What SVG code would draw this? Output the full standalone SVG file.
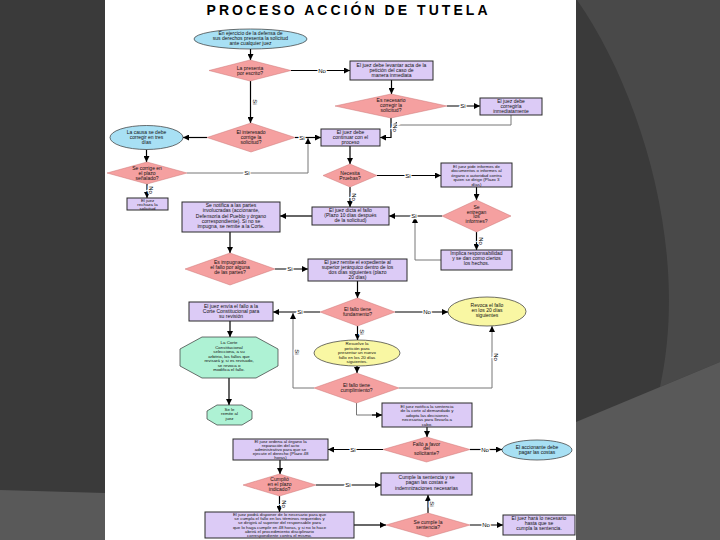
<svg xmlns="http://www.w3.org/2000/svg" width="720" height="540" viewBox="0 0 720 540">
<defs>
<marker id="ah" viewBox="0 0 6 6" refX="6" refY="3" markerWidth="6" markerHeight="6" markerUnits="userSpaceOnUse" orient="auto"><path d="M0,0 L6,3 L0,6 z" fill="#000"/></marker>
<style>
text{font-family:"Liberation Sans",Arial,sans-serif;fill:#111;text-anchor:middle}
.t{font-size:5px}
.s{font-size:4.4px}
.box{fill:#dccbf6;stroke:#2a2a2a;stroke-width:1}
.dia{fill:#f5a0a0;stroke:#c77;stroke-width:0.5}
.ell{fill:#a8e0f4;stroke:#333;stroke-width:0.7}
.yel{fill:#f9f7a3;stroke:#333;stroke-width:0.7}
.oct{fill:#aef2d4;stroke:#333;stroke-width:0.7}
.c{fill:none;stroke:#000;stroke-width:1.2;marker-end:url(#ah)}
.g{fill:none;stroke:#777;stroke-width:1;marker-end:url(#ah)}
.gn{fill:none;stroke:#777;stroke-width:1}
.lb{font-size:6px;fill:#000;paint-order:stroke;stroke:#fff;stroke-width:2.5}
</style>
</defs>
<rect x="0" y="0" width="720" height="540" fill="#3a3a3a"/>
<path d="M0,490 L105,493 L105,540 L0,540 Z" fill="#595959"/>
<path d="M577,0 C640,90 690,250 660,387 L720,362 L720,0 Z" fill="#494949"/>
<path d="M576,422 L720,362 L720,540 L576,540 Z" fill="#595959"/>
<rect x="105" y="0" width="471" height="540" fill="#fff"/>
<text x="347" y="14.5" style="font-size:14px;font-weight:900;fill:#000" textLength="281" lengthAdjust="spacing">PROCESO ACCIÓN DE TUTELA</text>

<g id="connectors">
<path class="c" d="M250.5,49 V60"/>
<path class="c" d="M291,70.5 H350"/>
<path class="c" d="M391.5,80 V94"/>
<path class="c" d="M250.5,81 V123"/>
<path class="c" d="M447,106 H480"/>
<path class="g" d="M511,115 V125 H391"/>
<path class="c" d="M391,118 V137.5 H380"/>
<path class="c" d="M295,137.5 H321"/>
<path class="c" d="M207,137.5 H183"/>
<path class="c" d="M146.5,149.5 V162"/>
<path class="g" d="M187,173 H308 V138"/>
<path class="c" d="M147,184 V198"/>
<path class="c" d="M350,146 V164"/>
<path class="c" d="M377,175.5 H441"/>
<path class="c" d="M476.5,187 V200"/>
<path class="c" d="M476.5,232 V250"/>
<path class="c" d="M442,216 H389"/>
<path class="g" d="M441,260 H415 V217"/>
<path class="c" d="M350,187 V207"/>
<path class="c" d="M312,216 H280"/>
<path class="c" d="M230,232 V253"/>
<path class="c" d="M275,269 H308"/>
<path class="c" d="M357.5,281 V298"/>
<path class="c" d="M395,312 H448"/>
<path class="c" d="M320,312 H273"/>
<path class="g" d="M314,388 H293 V313"/>
<path class="g" d="M399,388 H492 V326"/>
<path class="c" d="M357.5,326 V340"/>
<path class="c" d="M357,366 V373"/>
<path class="c" d="M230,321 V337"/>
<path class="c" d="M229,378 V405"/>
<path class="gn" d="M356.5,403 V415 H376"/>
<path class="c" d="M372,415 H382"/>
<path class="c" d="M427,427 V437"/>
<path class="c" d="M470,449.5 H502"/>
<path class="c" d="M383,449.5 H328"/>
<path class="c" d="M280,460 V474"/>
<path class="c" d="M316,485 H381"/>
<path class="c" d="M279.5,496 V512"/>
<path class="c" d="M354,525 H386"/>
<path class="c" d="M428,513 V495"/>
<path class="c" d="M470,525 H503"/>
<text class="lb" x="322" y="72.5">No</text>
<text class="lb" transform="translate(252.5,102) rotate(90)">Si</text>
<text class="lb" x="463" y="108">Si</text>
<text class="lb" transform="translate(393,128) rotate(90)">No</text>
<text class="lb" x="302" y="139.5">Si</text>
<text class="lb" x="247" y="175">Si</text>
<text class="lb" transform="translate(149,190) rotate(90)">No</text>
<text class="lb" x="408" y="177.5">Si</text>
<text class="lb" transform="translate(478.5,241) rotate(90)">No</text>
<text class="lb" x="414" y="218">Si</text>
<text class="lb" transform="translate(352,197) rotate(90)">No</text>
<text class="lb" x="290" y="271">Si</text>
<text class="lb" x="427" y="314">No</text>
<text class="lb" x="300" y="314">Si</text>
<text class="lb" transform="translate(295,352) rotate(90)">Si</text>
<text class="lb" transform="translate(494,357) rotate(90)">No</text>
<text class="lb" transform="translate(359.5,332) rotate(90)">Si</text>
<text class="lb" x="485" y="451.5">No</text>
<text class="lb" x="353" y="451.5">Si</text>
<text class="lb" x="348" y="487">Si</text>
<text class="lb" transform="translate(281.5,504) rotate(90)">No</text>
<text class="lb" transform="translate(430,504) rotate(90)">Si</text>
<text class="lb" x="486" y="527">No</text>
</g>

<g id="n_inicio"><ellipse class="ell" cx="250.5" cy="39" rx="56.5" ry="10"/><text class="t" x="250.5" y="35">En ejercicio de la defensa de<tspan x="250.5" dy="5">sus derechos presenta la solicitud</tspan><tspan x="250.5" dy="5">ante cualquier juez</tspan></text></g>
<g id="n_escrito"><polygon class="dia" points="250,60 291,70.5 250,81 209,70.5"/><text class="t" x="250" y="69.5">La presenta<tspan x="250" dy="5">por escrito?</tspan></text></g>
<g id="n_acta"><rect class="box" x="350" y="61" width="83" height="19"/><text class="t" x="391.5" y="66.5">El juez debe levantar acta de la<tspan x="391.5" dy="5">petición del caso de</tspan><tspan x="391.5" dy="5">manera inmediata</tspan></text></g>
<g id="n_corregir"><polygon class="dia" points="391,94 447,106 391,118 335,106"/><text class="t" x="391" y="102">Es necesario<tspan x="391" dy="5">corregir la</tspan><tspan x="391" dy="5">solicitud?</tspan></text></g>
<g id="n_corregirla"><rect class="box" x="480" y="98" width="62" height="17"/><text class="t" x="511" y="102.5">El juez debe<tspan x="511" dy="5">corregirla</tspan><tspan x="511" dy="5">inmediatamente</tspan></text></g>
<g id="n_interesado"><polygon class="dia" points="251,123 295,137.5 251,152 207,137.5"/><text class="t" x="251" y="134">El interesado<tspan x="251" dy="5">corrige la</tspan><tspan x="251" dy="5">solicitud?</tspan></text></g>
<g id="n_tresdias"><ellipse class="ell" cx="146.5" cy="137.5" rx="36.5" ry="12"/><text class="t" x="146.5" y="133.5">La causa se debe<tspan x="146.5" dy="5">corregir en tres</tspan><tspan x="146.5" dy="5">días</tspan></text></g>
<g id="n_plazo"><polygon class="dia" points="147,162 187,173 147,184 107,173"/><text class="t" x="147" y="169.5">Se corrige en<tspan x="147" dy="5">el plazo</tspan><tspan x="147" dy="5">señalado?</tspan></text></g>
<g id="n_rechaza"><rect class="box" x="127" y="198" width="41" height="12"/><text class="s" x="147.5" y="201.8">El juez<tspan x="147.5" dy="3.9">rechaza la</tspan><tspan x="147.5" dy="3.9">solicitud</tspan></text></g>
<g id="n_continuar"><rect class="box" x="321" y="129" width="59" height="17"/><text class="t" x="350.5" y="133.5">El juez debe<tspan x="350.5" dy="5">continuar con el</tspan><tspan x="350.5" dy="5">proceso</tspan></text></g>
<g id="n_pruebas"><polygon class="dia" points="350,164 377,175.5 350,187 323,175.5"/><text class="t" x="350" y="174.5">Necesita<tspan x="350" dy="5">Pruebas?</tspan></text></g>
<g id="n_informe"><rect class="box" x="441" y="163" width="71" height="24"/><text class="s" x="476.5" y="167.5">El juez pide informes de<tspan x="476.5" dy="4.5">documentos o informes al</tspan><tspan x="476.5" dy="4.5">órgano o autoridad contra</tspan><tspan x="476.5" dy="4.5">quien se dirige (Plazo 3</tspan><tspan x="476.5" dy="4.5">días)</tspan></text></g>
<g id="n_entregan"><polygon class="dia" points="476.5,200 511,216 476.5,232 442,216"/><text class="t" x="476.5" y="209">Se<tspan x="476.5" dy="4.6">entregan</tspan><tspan x="476.5" dy="4.6">los</tspan><tspan x="476.5" dy="4.6">informes?</tspan></text></g>
<g id="n_implica"><rect class="box" x="441" y="250" width="71" height="20"/><text class="t" x="476.5" y="255">Implica responsabilidad<tspan x="476.5" dy="5">y se dan como ciertos</tspan><tspan x="476.5" dy="5">los hechos.</tspan></text></g>
<g id="n_fallo"><rect class="box" x="312" y="207" width="77" height="18"/><text class="t" x="350.5" y="211.5">El juez dicta el fallo<tspan x="350.5" dy="5">(Plazo 10 días después</tspan><tspan x="350.5" dy="5">de la solicitud)</tspan></text></g>
<g id="n_notifica"><rect class="box" x="182" y="202" width="98" height="30"/><text class="t" x="231" y="207">Se notifica a las partes<tspan x="231" dy="5.3">involucradas (accionante,</tspan><tspan x="231" dy="5.3">Defensoría del Pueblo y órgano</tspan><tspan x="231" dy="5.3">correspondiente). Si no se</tspan><tspan x="231" dy="5.3">impugna, se remite a la Corte.</tspan></text></g>
<g id="n_impugnado"><polygon class="dia" points="230,253 275,269 230,285 185,269"/><text class="t" x="230" y="264">Es impugnado<tspan x="230" dy="5">el fallo por alguna</tspan><tspan x="230" dy="5">de las partes?</tspan></text></g>
<g id="n_remite"><rect class="box" x="308" y="259" width="99" height="22"/><text class="t" x="357.5" y="264">El juez remite el expediente al<tspan x="357.5" dy="4.9">superior jerárquico dentro de los</tspan><tspan x="357.5" dy="4.9">dos días siguientes (plazo</tspan><tspan x="357.5" dy="4.9">20 días)</tspan></text></g>
<g id="n_envia"><rect class="box" x="189" y="302" width="84" height="19"/><text class="t" x="231" y="307.5">El juez envía el fallo a la<tspan x="231" dy="5">Corte Constitucional para</tspan><tspan x="231" dy="5">su revisión</tspan></text></g>
<g id="n_fundamento"><polygon class="dia" points="357.5,298 395,312 357.5,326 320,312"/><text class="t" x="357.5" y="310.5">El fallo tiene<tspan x="357.5" dy="5">fundamento?</tspan></text></g>
<g id="n_revoca"><ellipse class="yel" cx="487" cy="311.5" rx="39" ry="14.5"/><text class="t" x="487" y="307">Revoca el fallo<tspan x="487" dy="5">en los 20 días</tspan><tspan x="487" dy="5">siguientes</tspan></text></g>
<g id="n_corte"><polygon class="oct" points="202,337 256,337 278,349 278,366 256,378 202,378 180,366 180,349"/><text class="s" x="229" y="344">La Corte<tspan x="229" dy="4.5">Constitucional</tspan><tspan x="229" dy="4.5">selecciona, a su</tspan><tspan x="229" dy="4.5">arbitrio, los fallos que</tspan><tspan x="229" dy="4.5">revisará y, si es revisado,</tspan><tspan x="229" dy="4.5">se revoca o</tspan><tspan x="229" dy="4.5">modifica el fallo.</tspan></text></g>
<g id="n_resuelve"><ellipse class="yel" cx="357" cy="353" rx="43" ry="13"/><text class="s" x="357" y="345">Resuelve la<tspan x="357" dy="4.5">petición para</tspan><tspan x="357" dy="4.5">presentar un nuevo</tspan><tspan x="357" dy="4.5">fallo en los 20 días</tspan><tspan x="357" dy="4.5">siguientes.</tspan></text></g>
<g id="n_cumplimiento"><polygon class="dia" points="356.5,373 399,388 356.5,403 314,388"/><text class="t" x="356.5" y="386.5">El fallo tiene<tspan x="356.5" dy="5">cumplimiento?</tspan></text></g>
<g id="n_remitejuez"><polygon class="oct" points="217,405 242,405 252,411 252,419 242,425 217,425 207,419 207,411"/><text class="s" x="229.5" y="410.5">Se le<tspan x="229.5" dy="4.5">remite al</tspan><tspan x="229.5" dy="4.5">juez</tspan></text></g>
<g id="n_notificasent"><rect class="box" x="382" y="403" width="90" height="24"/><text class="s" x="427" y="407.5">El juez notifica la sentencia<tspan x="427" dy="4.5">de la corte al demandado y</tspan><tspan x="427" dy="4.5">adopta las decisiones</tspan><tspan x="427" dy="4.5">necesarias para llevarla a</tspan><tspan x="427" dy="4.5">cabo.</tspan></text></g>
<g id="n_favor"><polygon class="dia" points="426.5,437 470,449.5 426.5,462 383,449.5"/><text class="t" x="426.5" y="445.5">Falló a favor<tspan x="426.5" dy="4.6">del</tspan><tspan x="426.5" dy="4.6">solicitante?</tspan></text></g>
<g id="n_costas"><ellipse class="ell" cx="537" cy="450" rx="35" ry="10"/><text class="t" x="537" y="448.5">El accionante debe<tspan x="537" dy="5">pagar las costas</tspan></text></g>
<g id="n_ordena"><rect class="box" x="233" y="439" width="95" height="21"/><text class="s" x="280.5" y="442.8">El juez ordena al órgano la<tspan x="280.5" dy="4">reparación del acto</tspan><tspan x="280.5" dy="4">administrativo para que se</tspan><tspan x="280.5" dy="4">ejecute el derecho (Plazo 48</tspan><tspan x="280.5" dy="4">horas)</tspan></text></g>
<g id="n_cumplio"><polygon class="dia" points="279.5,474 316,485 279.5,496 243,485"/><text class="t" x="279.5" y="481">Cumplió<tspan x="279.5" dy="4.8">en el plazo</tspan><tspan x="279.5" dy="4.8">indicado?</tspan></text></g>
<g id="n_cumple"><rect class="box" x="381" y="473" width="91" height="22"/><text class="t" x="426.5" y="479">Cumple la sentencia y se<tspan x="426.5" dy="5.3">pagan las costas e</tspan><tspan x="426.5" dy="5.3">indemnizaciones necesarias</tspan></text></g>
<g id="n_disponer"><rect class="box" x="205" y="512" width="149" height="26"/><text class="s" x="279.5" y="516">El juez podrá disponer de lo necesario para que<tspan x="279.5" dy="4.2">se cumpla el fallo en los términos requeridos y</tspan><tspan x="279.5" dy="4.2">se dirigirá al superior del responsable para</tspan><tspan x="279.5" dy="4.2">que lo haga cumplir en 48 horas, y si no lo hace</tspan><tspan x="279.5" dy="4.2">abrirá el procedimiento disciplinario</tspan><tspan x="279.5" dy="4.2">correspondiente contra el mismo.</tspan></text></g>
<g id="n_secumple"><polygon class="dia" points="428,513 470,525 428,537 386,525"/><text class="t" x="428" y="523.5">Se cumple la<tspan x="428" dy="5">sentencia?</tspan></text></g>
<g id="n_hara"><rect class="box" x="503" y="515" width="72" height="20"/><text class="t" x="539" y="520">El juez hará lo necesario<tspan x="539" dy="5">hasta que se</tspan><tspan x="539" dy="5">cumpla la sentencia.</tspan></text></g>
</svg>
